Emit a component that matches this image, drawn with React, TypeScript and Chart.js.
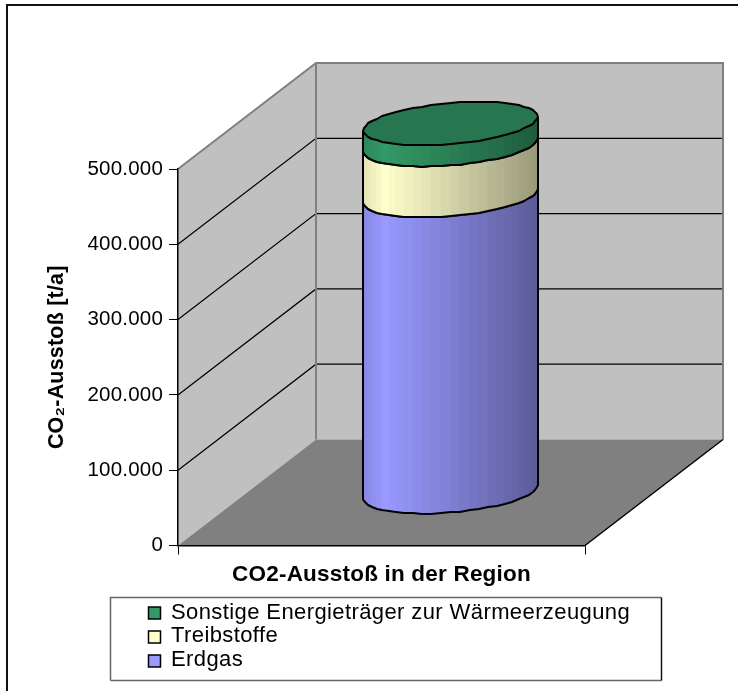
import React, { useEffect, useRef } from "react";
import { Chart, registerables } from "chart.js";

Chart.register(...registerables);

const categories = ["CO2-Ausstoß in der Region"];
const erdgas = [394000];
const treibstoffe = [67500];
const sonstige = [28500];
const seriesNames = ["Erdgas", "Treibstoffe", "Sonstige Energieträger zur Wärmeerzeugung"];
const seriesColors = ["#9999FF", "#FFFFCC", "#339966"];
const yTicks = [0, 100000, 200000, 300000, 400000, 500000];

const FONT = '"Liberation Sans", Arial, sans-serif';
const DX = 138;
const DY = 106;
const FRACTION = 0.204;
const SEGMENTS = 56;

function rgb(hex: string, k: number) {
  const n = parseInt(hex.slice(1), 16);
  const r = Math.round(((n >> 16) & 255) * k);
  const g = Math.round(((n >> 8) & 255) * k);
  const b = Math.round((n & 255) * k);
  return `rgb(${r},${g},${b})`;
}

function shade(u: number) {
  return u < 0.13 ? 0.88 + (0.12 * u) / 0.13 : 1 - (0.4 * (u - 0.13)) / 0.87;
}

const scenePlugin = {
  id: "scene",
  beforeDraw(chart: any) {
    const { ctx, chartArea: a, scales } = chart;
    const y = scales.y;
    ctx.save();
    ctx.fillStyle = "#ffffff";
    ctx.fillRect(0, 0, chart.width, chart.height);
    ctx.strokeStyle = "#111111";
    ctx.lineWidth = 2;
    ctx.beginPath();
    ctx.moveTo(7, chart.height);
    ctx.lineTo(7, 5);
    ctx.lineTo(chart.width, 5);
    ctx.stroke();

    const poly = (pts: number[][], fill: string) => {
      ctx.fillStyle = fill;
      ctx.beginPath();
      pts.forEach((p, i) => (i ? ctx.lineTo(p[0], p[1]) : ctx.moveTo(p[0], p[1])));
      ctx.closePath();
      ctx.fill();
    };
    const { left: l, right: r, top: t, bottom: b } = a;
    poly([[l, b], [l + DX, b - DY], [l + DX, t - DY], [l, t]], "#C0C0C0");
    poly([[l + DX, b - DY], [r + DX, b - DY], [r + DX, t - DY], [l + DX, t - DY]], "#C0C0C0");
    poly([[l, b], [r, b], [r + DX, b - DY], [l + DX, b - DY]], "#808080");

    ctx.strokeStyle = "#000000";
    ctx.lineWidth = 1.2;
    yTicks.slice(1, -1).forEach((v) => {
      const py = y.getPixelForValue(v);
      ctx.beginPath();
      ctx.moveTo(l, py);
      ctx.lineTo(l + DX, py - DY);
      ctx.lineTo(r + DX, py - DY);
      ctx.stroke();
    });

    ctx.strokeStyle = "#808080";
    ctx.lineWidth = 2;
    ctx.beginPath();
    ctx.moveTo(l, t);
    ctx.lineTo(l + DX, t - DY);
    ctx.lineTo(r + DX, t - DY);
    ctx.lineTo(r + DX, b - DY);
    ctx.moveTo(l + DX, t - DY);
    ctx.lineTo(l + DX, b - DY);
    ctx.stroke();

    ctx.strokeStyle = "#000000";
    ctx.lineWidth = 1.5;
    ctx.beginPath();
    ctx.moveTo(r, b);
    ctx.lineTo(r + DX, b - DY);
    ctx.stroke();
    ctx.restore();
    ctx.letterSpacing = "0.2px";
  },
  beforeDatasetDraw() {
    return false;
  },
  afterDatasetsDraw(chart: any) {
    const { ctx } = chart;
    chart.data.datasets.forEach((ds: any, di: number) => {
      const el = chart.getDatasetMeta(di).data[0];
      const A = el.width / 2;
      const sx = DX * FRACTION;
      const sy = DY * FRACTION;
      const t0 = Math.atan2(sx, A);
      const cx = el.x + DX / 2;
      const yTop = el.y - DY / 2;
      const yBase = el.base - DY / 2;
      const at = (i: number, cy: number) => {
        const th = t0 + Math.PI + (i / SEGMENTS) * 2 * Math.PI;
        return [
          Math.round(cx + A * Math.cos(th) + sx * Math.sin(th)),
          Math.round(cy - sy * Math.sin(th)),
        ];
      };
      const half = SEGMENTS / 2;
      const xl = at(0, yTop)[0];
      const xr = at(half, yTop)[0];
      ctx.save();
      ctx.lineWidth = 1;
      for (let i = 0; i < half; i++) {
        const a1 = at(i, yTop);
        const a2 = at(i + 1, yTop);
        const b1 = at(i, yBase);
        const b2 = at(i + 1, yBase);
        const u = ((a1[0] + a2[0]) / 2 - xl) / (xr - xl);
        const c = rgb(ds.backgroundColor, shade(u));
        ctx.fillStyle = c;
        ctx.strokeStyle = c;
        ctx.beginPath();
        ctx.moveTo(a1[0], a1[1]);
        ctx.lineTo(a2[0], a2[1]);
        ctx.lineTo(b2[0], b2[1]);
        ctx.lineTo(b1[0], b1[1]);
        ctx.closePath();
        ctx.fill();
        ctx.stroke();
      }
      ctx.strokeStyle = "#000000";
      ctx.lineWidth = 2;
      ctx.lineJoin = "round";
      ctx.beginPath();
      const a0 = at(0, yTop);
      ctx.moveTo(a0[0], a0[1]);
      for (let i = 0; i <= half; i++) {
        const p = at(i, yBase);
        ctx.lineTo(p[0], p[1]);
      }
      const an = at(half, yTop);
      ctx.lineTo(an[0], an[1]);
      ctx.stroke();
      ctx.fillStyle = rgb(ds.backgroundColor, 0.77);
      ctx.beginPath();
      for (let i = 0; i <= SEGMENTS; i++) {
        const p = at(i, yTop);
        if (i) ctx.lineTo(p[0], p[1]);
        else ctx.moveTo(p[0], p[1]);
      }
      ctx.closePath();
      ctx.fill();
      ctx.stroke();
      ctx.restore();
    });

    // legend
    ctx.save();
    ctx.fillStyle = "#ffffff";
    ctx.fillRect(110, 597, 552, 84);
    ctx.lineWidth = 1.5;
    ctx.strokeStyle = "#666666";
    ctx.beginPath();
    ctx.moveTo(110.5, 680.5);
    ctx.lineTo(110.5, 597.5);
    ctx.lineTo(661.5, 597.5);
    ctx.moveTo(110.5, 680.5);
    ctx.lineTo(661.5, 680.5);
    ctx.stroke();
    ctx.strokeStyle = "#111111";
    ctx.beginPath();
    ctx.moveTo(661.5, 597.5);
    ctx.lineTo(661.5, 680.5);
    ctx.stroke();
    ctx.textBaseline = "middle";
    ctx.font = `22px ${FONT}`;
    ctx.letterSpacing = "0.4px";
    const rows = [
      { i: 2, text: 613, box: 607 },
      { i: 1, text: 636, box: 631 },
      { i: 0, text: 660, box: 655 },
    ];
    rows.forEach((row) => {
      ctx.fillStyle = seriesColors[row.i];
      ctx.strokeStyle = "#000000";
      ctx.lineWidth = 1.5;
      ctx.fillRect(148.5, row.box, 12, 12);
      ctx.strokeRect(148.5, row.box, 12, 12);
      ctx.fillStyle = "#000000";
      ctx.fillText(seriesNames[row.i], 171, row.text);
    });
    ctx.restore();
  },
};

export default function App() {
  const ref = useRef<HTMLCanvasElement | null>(null);
  useEffect(() => {
    const chart = new Chart(ref.current as HTMLCanvasElement, {
      type: "bar",
      data: {
        labels: categories,
        datasets: [
          { label: seriesNames[0], data: erdgas, backgroundColor: seriesColors[0] },
          { label: seriesNames[1], data: treibstoffe, backgroundColor: seriesColors[1] },
          { label: seriesNames[2], data: sonstige, backgroundColor: seriesColors[2] },
        ],
      },
      options: {
        animation: false,
        responsive: false,
        maintainAspectRatio: false,
        layout: { padding: { left: 44, right: 153, top: 169, bottom: 100 } },
        datasets: { bar: { barPercentage: 0.405, categoryPercentage: 1 } },
        plugins: { legend: { display: false }, tooltip: { enabled: false }, title: { display: false } },
        scales: {
          x: {
            stacked: true,
            offset: true,
            afterFit: (s: any) => {
              s.height = 45.5;
            },
            grid: { drawOnChartArea: false, drawTicks: true, tickLength: 9, tickColor: "#000000", offset: true },
            border: { display: true, color: "#000000", width: 1.5 },
            ticks: {
              color: "#000000",
              maxRotation: 0,
              padding: 7,
              font: { family: FONT, size: 22.5, weight: "bold" },
            },
          },
          y: {
            stacked: true,
            min: 0,
            max: 500000,
            afterFit: (s: any) => {
              s.width = 134;
            },
            afterBuildTicks: (s: any) => {
              s.ticks = yTicks.map((value) => ({ value }));
            },
            title: {
              display: true,
              text: "CO₂-Ausstoß [t/a]",
              color: "#000000",
              padding: 0,
              font: { family: FONT, size: 21.5, weight: "bold" },
            },
            grid: { drawOnChartArea: false, drawTicks: true, tickLength: 9, tickColor: "#000000" },
            border: { display: true, color: "#000000", width: 1.5 },
            ticks: {
              color: "#000000",
              padding: 6,
              font: { family: FONT, size: 20.5 },
              callback: (v: any) => Number(v).toLocaleString("de-DE"),
            },
          },
        },
      } as any,
      plugins: [scenePlugin as any],
    });
    return () => chart.destroy();
  }, []);
  return (
    <canvas
      ref={ref}
      width={738}
      height={691}
      style={{ position: "absolute", left: 0, top: 0, display: "block" }}
    />
  );
}
